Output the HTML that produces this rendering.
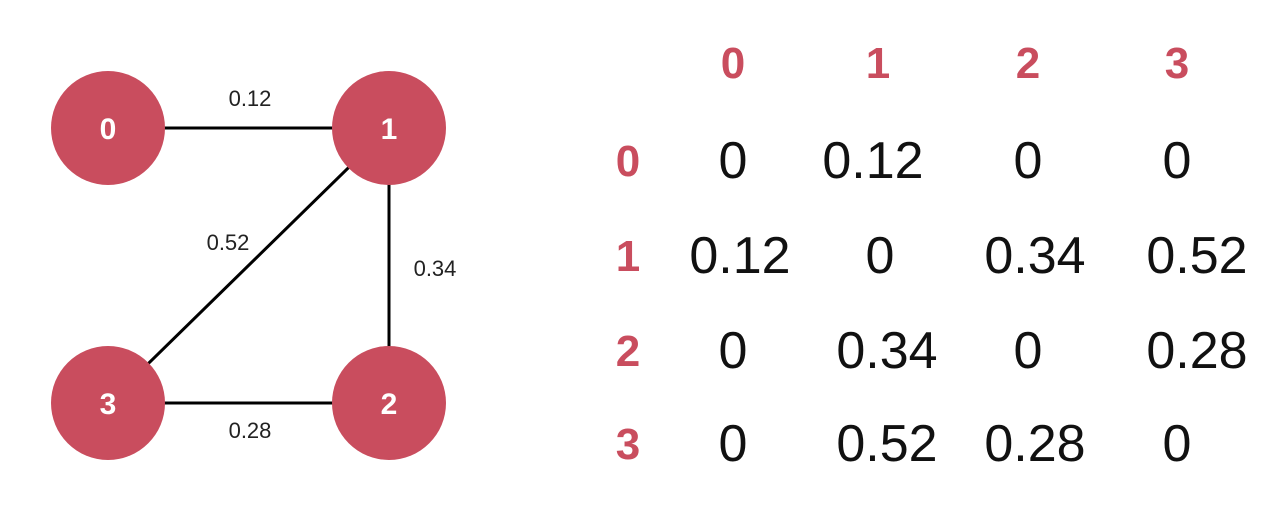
<!DOCTYPE html>
<html><head><meta charset="utf-8"><style>
html,body{margin:0;padding:0;background:#fff;width:1282px;height:512px;overflow:hidden}
svg{display:block}
</style></head><body>
<svg width="1282" height="512" font-family="Liberation Sans, sans-serif">
<g id="graph"></g>
<g id="matrix"></g>
</svg>
<script>
const nodeIds = ["0","1","2","3"];
const nodeX = [108, 389, 389, 108];
const nodeY = [128, 128, 403, 403];
const edgeFrom = [0, 1, 1, 3];
const edgeTo = [1, 2, 3, 2];
const edgeWeights = ["0.12", "0.34", "0.52", "0.28"];
const labelX = [250, 435, 228, 250];
const labelY = [106, 276, 250, 438];
const matrixValues = [
  ["0","0.12","0","0"],
  ["0.12","0","0.34","0.52"],
  ["0","0.34","0","0.28"],
  ["0","0.52","0.28","0"]
];
const colX = [733, 878, 1028, 1177];
const rowY = [160, 255, 350, 443];
const cellOffsetX = [
  [0,-5,0,0],
  [7,2,7,20],
  [0,9,0,20],
  [0,9,7,0]
];
const NS = "http://www.w3.org/2000/svg";
const red = "#c94d5e";
const g = document.getElementById("graph");
const m = document.getElementById("matrix");
function mk(tag, attrs, parent, txt){
  const e = document.createElementNS(NS, tag);
  for (const k in attrs) e.setAttribute(k, attrs[k]);
  if (txt !== undefined) e.textContent = txt;
  parent.appendChild(e);
  return e;
}
edgeFrom.forEach((f, i) => {
  const t = edgeTo[i];
  const l = mk("line", {x1: nodeX[f], y1: nodeY[f], x2: nodeX[t], y2: nodeY[t], stroke: "#000", "stroke-width": 3}, g);
  
  
  const tx = mk("text", {x: labelX[i], y: labelY[i], "text-anchor": "middle", "font-size": 22, fill: "#222"}, g, edgeWeights[i]);
  
  
});
nodeIds.forEach((id, i) => {
  const c = mk("circle", {cx: nodeX[i], cy: nodeY[i], r: 57, fill: red}, g);
  
  
  const t = mk("text", {x: nodeX[i], y: nodeY[i] + 11, "text-anchor": "middle", "font-size": 30, "font-weight": "bold", fill: "#fff"}, g, id);
  
  
});
nodeIds.forEach((id, j) => {
  const t = mk("text", {x: colX[j], y: 78, "text-anchor": "middle", "font-size": 44, "font-weight": "bold", fill: red}, m, id);
  
  
});
nodeIds.forEach((id, i) => {
  const t = mk("text", {x: 628, y: rowY[i] + 16, "text-anchor": "middle", "font-size": 44, "font-weight": "bold", fill: red}, m, id);
  
  
  matrixValues[i].forEach((v, j) => {
    const c = mk("text", {x: colX[j] + cellOffsetX[i][j], y: rowY[i] + 18, "text-anchor": "middle", "font-size": 52, fill: "#111"}, m, v);
    
    
  });
});
</script>
</body></html>
